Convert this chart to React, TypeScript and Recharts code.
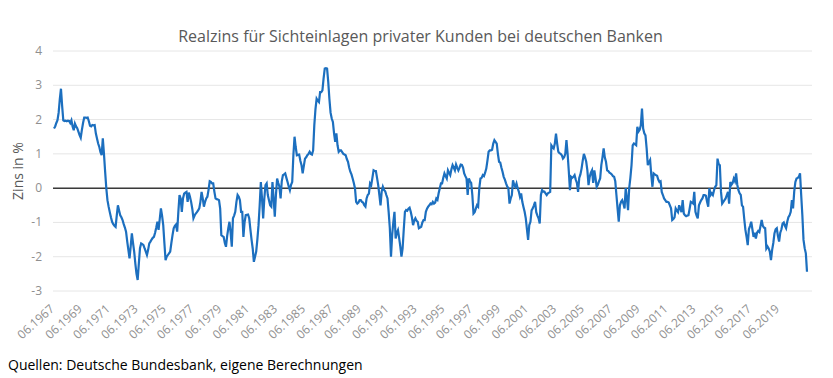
import React from 'react';
import { LineChart, Line, XAxis, YAxis, CartesianGrid, ReferenceLine } from 'recharts';

const startYear = 1967;
const startMonth = 6;

// Monthly real interest rate (%) from 06.1967 to 06.2021
const realRate: number[] = [
  1.74, 1.8, 1.9, 1.98, 2.2, 2.6, 2.9, 2.4, 1.98, 1.96, 1.97, 1.95,
  1.97, 1.96, 1.9, 1.98, 1.8, 1.69, 1.88, 1.8, 1.75, 1.65, 1.55, 1.47,
  1.7, 1.9, 2.06, 2.06, 2.05, 2.06, 1.95, 1.82, 1.8, 1.84, 1.83, 1.84,
  1.6, 1.45, 1.3, 1.2, 1.05, 0.96, 1.45, 1.0, 0.48, 0.0, -0.35, -0.54,
  -0.7, -0.85, -0.98, -1.05, -1.1, -1.13, -0.8, -0.5, -0.65, -0.79, -0.85, -0.93,
  -1.05, -1.15, -1.27, -1.55, -1.8, -2.05, -1.7, -1.32, -1.6, -1.85, -2.2, -2.5,
  -2.68, -2.2, -1.75, -1.61, -1.63, -1.66, -1.76, -1.85, -1.95, -1.8, -1.61, -1.56,
  -1.5, -1.45, -1.42, -1.3, -1.15, -0.98, -1.22, -0.9, -0.59, -0.8, -1.08, -1.6,
  -2.1, -2.0, -1.95, -1.9, -1.85, -1.6, -1.37, -1.17, -1.1, -1.06, -1.27, -0.7,
  -0.2, -0.3, -0.69, -0.3, -0.16, -0.13, -0.11, -0.4, -0.13, -0.25, -0.4, -0.6,
  -0.88, -0.8, -0.74, -0.7, -0.65, -0.59, -0.4, -0.11, -0.3, -0.54, -0.4, -0.3,
  -0.25, -0.05, 0.2, 0.18, 0.14, 0.14, -0.1, -0.3, -0.32, -0.33, -0.35, -0.6,
  -1.37, -1.4, -1.42, -1.6, -1.71, -1.4, -1.17, -0.98, -1.3, -1.71, -0.88, -0.8,
  -0.69, -0.4, -0.2, -0.25, -0.35, -0.69, -0.69, -1.42, -1.0, -0.79, -0.78, -0.77,
  -0.88, -1.2, -1.5, -1.76, -2.15, -2.0, -1.85, -1.5, -1.08, -0.5, 0.18, -0.3,
  -0.88, -0.3, 0.09, 0.14, -0.2, -0.35, -0.5, -0.54, 0.18, -0.3, -0.83, -0.2,
  0.28, 0.15, 0.04, -0.3, 0.2, 0.38, 0.4, 0.43, 0.3, 0.18, 0.05, -0.06,
  0.1, 0.18, 0.96, 1.5, 1.2, 0.96, 0.97, 0.98, 0.8, 0.67, 0.43, 0.65,
  0.86, 0.9, 0.96, 1.0, 1.06, 1.0, 0.98, 1.1, 1.83, 2.3, 2.61, 2.55,
  2.51, 2.8, 2.8, 2.85, 3.2, 3.49, 3.5, 3.49, 3.1, 2.6, 2.2, 2.03,
  1.93, 1.6, 1.35, 1.6, 1.25, 1.06, 1.1, 1.1, 1.05, 1.0, 0.98, 0.96,
  0.85, 0.77, 0.6, 0.48, 0.4, 0.28, 0.15, 0.0, -0.4, -0.45, -0.42, -0.35,
  -0.35, -0.4, -0.42, -0.5, -0.54, -0.3, -0.2, -0.16, 0.14, 0.09, 0.3, 0.52,
  0.5, 0.5, 0.3, 0.09, -0.2, -0.5, -0.1, 0.04, -0.05, -0.09, -0.2, -0.3,
  -0.7, -1.17, -2.0, -1.37, -1.0, -0.69, -1.47, -1.3, -1.22, -1.45, -1.7, -2.0,
  -1.76, -1.2, -0.69, -0.64, -0.66, -0.6, -0.57, -0.69, -0.85, -1.08, -0.95, -0.88,
  -0.95, -0.98, -1.17, -1.15, -1.13, -1.0, -0.93, -0.93, -0.69, -0.6, -0.54, -0.5,
  -0.45, -0.47, -0.4, -0.45, -0.42, -0.3, -0.34, -0.15, 0.0, 0.14, 0.14, 0.3,
  0.43, 0.35, 0.28, 0.52, 0.45, 0.38, 0.55, 0.67, 0.6, 0.52, 0.69, 0.6,
  0.52, 0.6, 0.69, 0.68, 0.6, 0.43, 0.35, 0.28, -0.2, 0.28, 0.2, 0.15,
  -0.2, -0.74, -0.7, -0.6, -0.5, -0.54, 0.0, 0.28, 0.3, 0.38, 0.35, 0.45,
  0.57, 0.8, 1.06, 1.1, 1.1, 1.12, 1.3, 1.4, 1.35, 1.3, 1.0, 0.77,
  0.75, 0.6, 0.48, 0.33, 0.25, 0.14, 0.05, 0.0, -0.45, -0.3, -0.2, 0.23,
  0.1, 0.04, 0.14, 0.0, -0.1, -0.25, -0.15, -0.4, -0.55, -0.69, -0.88, -1.2,
  -1.51, -1.08, -0.98, -0.65, -0.59, -0.5, -0.4, -0.7, -0.8, -0.88, -1.03, -0.2,
  -0.06, -0.1, -0.1, -0.15, -0.2, -0.15, -0.13, -0.11, 1.25, 1.2, 1.16, 1.3,
  1.59, 1.3, 1.06, 1.02, 1.0, 0.96, 0.86, 0.9, 1.0, 1.4, 1.0, 0.5,
  -0.06, 0.33, 0.3, 0.33, 0.38, 0.25, 0.15, -0.11, 0.3, 0.4, 0.57, 0.8,
  1.0, 0.9, 0.77, 0.52, 0.09, 0.33, 0.45, 0.52, 0.15, 0.52, 0.3, 0.04,
  0.1, 0.2, 0.28, 0.67, 0.9, 1.16, 0.9, 0.77, 0.52, 0.5, 0.45, 0.43,
  0.4, 0.35, 0.33, 0.2, -0.2, -0.6, -0.98, -0.5, -0.4, -0.35, -0.45, -0.59,
  0.0, -0.3, -0.64, 0.0, 0.3, 0.67, 1.25, 1.3, 1.28, 1.25, 1.79, 1.65,
  1.7, 1.83, 2.32, 1.74, 1.6, 1.54, 1.16, 0.67, 0.75, 0.82, 0.38, 0.04,
  0.43, 0.4, 0.38, 0.36, 0.25, 0.18, 0.2, -0.11, -0.2, -0.3, -0.35, -0.4,
  -0.4, -0.42, -0.5, -0.59, -0.93, -0.9, -0.85, -0.59, -0.65, -0.7, -0.5, -0.6,
  -0.7, -0.35, -0.74, -0.79, -0.82, -0.8, -0.79, -0.6, -0.4, -0.42, -0.45, -0.11,
  -0.69, -0.8, -0.88, -0.5, -0.42, -0.35, -0.3, -0.2, -0.2, -0.22, -0.4, -0.54,
  0.0, -0.2, -0.15, -0.2, -0.06, 0.04, 0.09, 0.86, 0.7, 0.67, -0.11, -0.45,
  -0.4, -0.35, -0.3, -0.2, -0.11, -0.45, 0.18, 0.1, 0.15, 0.28, 0.2, 0.43,
  0.1, -0.06, -0.15, -0.2, -0.5, -0.55, -0.9, -1.22, -1.42, -1.66, -1.2, -1.1,
  -0.98, -1.2, -1.42, -1.3, -1.47, -1.3, -1.25, -1.28, -1.1, -0.93, -1.1, -1.15,
  -1.17, -1.76, -1.7, -1.76, -1.85, -2.1, -1.8, -1.6, -1.32, -1.2, -1.17, -1.4,
  -1.56, -1.3, -1.2, -1.03, -1.0, -1.1, -1.17, -0.98, -0.85, -0.79, -0.69, -0.35,
  -0.59, -0.1, 0.18, 0.28, 0.3, 0.33, 0.43, -0.2, -0.79, -1.51, -1.75, -1.9,
  -2.44,
];

const tickLabels: string[] = [
  '06.1967', '06.1969', '06.1971', '06.1973', '06.1975', '06.1977', '06.1979',
  '06.1981', '06.1983', '06.1985', '06.1987', '06.1989', '06.1991', '06.1993',
  '06.1995', '06.1997', '06.1999', '06.2001', '06.2003', '06.2005', '06.2007',
  '06.2009', '06.2011', '06.2013', '06.2015', '06.2017', '06.2019',
];

const yTicks: number[] = [-3, -2, -1, 0, 1, 2, 3, 4];

const title = 'Realzins für Sichteinlagen privater Kunden bei deutschen Banken';
const yLabel = 'Zins in %';
const source = 'Quellen: Deutsche Bundesbank, eigene Berechnungen';

const months: string[] = realRate.map((_, i) => {
  const k = startMonth - 1 + i;
  const m = (k % 12) + 1;
  const y = startYear + Math.floor(k / 12);
  return `${String(m).padStart(2, '0')}.${y}`;
});

const data = months.map((month, i) => ({ month, value: realRate[i] }));

const FONT = '"Open Sans", "DejaVu Sans", sans-serif';

const XTick = (props: any) => {
  const { x, y, payload } = props;
  const ax = x + 1;
  const ay = y + 19;
  return (
    <text
      x={ax}
      y={ay}
      transform={`rotate(-42 ${ax} ${ay})`}
      textAnchor="end"
      fill="#8f8f8f"
      fontSize={12}
      fontFamily={FONT}
    >
      {payload.value}
    </text>
  );
};

const YTick = (props: any) => {
  const { x, y, payload } = props;
  return (
    <text x={x} y={y} dy={4} textAnchor="end" fill="#8f8f8f" fontSize={12} fontFamily={FONT}>
      {payload.value}
    </text>
  );
};

export default function App() {
  return (
    <div
      style={{
        position: 'absolute',
        left: 0,
        top: 0,
        width: 833,
        height: 378,
        background: '#ffffff',
        fontFamily: FONT,
        overflow: 'hidden',
      }}
    >
      <div
        style={{
          position: 'absolute',
          top: 25,
          left: 4,
          width: 833,
          textAlign: 'center',
          fontSize: 16,
          lineHeight: '22px',
          color: '#595959',
        }}
      >
        {title}
      </div>
      <div
        style={{
          position: 'absolute',
          left: -32,
          top: 161,
          width: 100,
          textAlign: 'center',
          fontSize: 14,
          lineHeight: '20px',
          color: '#595959',
          transform: 'rotate(-90deg)',
        }}
      >
        {yLabel}
      </div>
      <div style={{ position: 'absolute', left: 0, top: 0 }}>
        <LineChart
          width={833}
          height={378}
          data={data}
          margin={{ top: 51, right: 21, left: 0, bottom: 27 }}
        >
          <CartesianGrid vertical={false} stroke="#e6e6e6" strokeWidth={1} />
          <XAxis
            dataKey="month"
            ticks={tickLabels}
            interval={0}
            height={60}
            tickLine={false}
            axisLine={false}
            tickSize={0}
            tickMargin={0}
            padding={{ left: 1, right: 5 }}
            tick={<XTick />}
          />
          <YAxis
            width={53}
            domain={[-3, 4]}
            ticks={yTicks}
            interval={0}
            tickLine={false}
            axisLine={false}
            tickSize={0}
            tickMargin={11}
            tick={<YTick />}
          />
          <ReferenceLine y={0} stroke="#3a3a3a" strokeWidth={1.5} />
          <Line
            type="linear"
            dataKey="value"
            stroke="#1c6fbf"
            strokeWidth={2.2}
            dot={false}
            isAnimationActive={false}
          />
        </LineChart>
      </div>
      <div
        style={{
          position: 'absolute',
          left: 8,
          top: 357,
          fontSize: 14,
          lineHeight: '16px',
          color: '#000000',
          whiteSpace: 'nowrap',
        }}
      >
        {source}
      </div>
    </div>
  );
}
